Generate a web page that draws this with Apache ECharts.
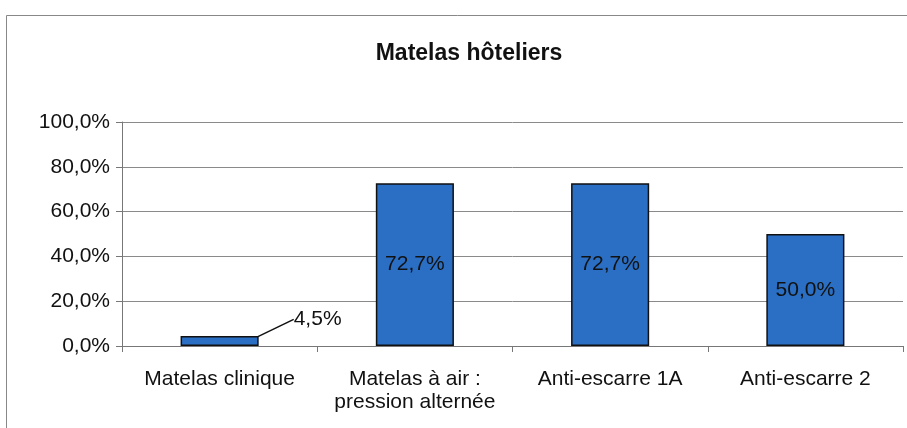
<!DOCTYPE html>
<html>
<head>
<meta charset="utf-8">
<script src="https://cdn.jsdelivr.net/npm/echarts@6/dist/echarts.min.js"></script>
<style>
  html, body { margin: 0; padding: 0; background: #fff; }
  #chart { width: 907px; height: 428px; }
</style>
</head>
<body>
<div id="chart"></div>
<script>
const categories = ["Matelas clinique", "Matelas à air :\npression alternée", "Anti-escarre 1A", "Anti-escarre 2"];
const values = [4.5, 72.7, 72.7, 50.0];
const yTicks = [0, 20, 40, 60, 80, 100];

const fmt = (v) => v.toFixed(1).replace(".", ",") + "%";

const chart = echarts.init(document.getElementById("chart"));

const option = {
  animation: false,
  textStyle: { fontFamily: "Liberation Sans, Arial, sans-serif" },
  title: {
    text: "Matelas hôteliers",
    left: 464,
    textAlign: "center",
    top: 37,
    textStyle: { fontSize: 23, fontWeight: "bold", color: "#111" },
  },
  graphic: [
    {
      type: "rect",
      shape: { x: 6.5, y: 15.5, width: 920, height: 430 },
      style: { fill: "none", stroke: "#888", lineWidth: 1 },
      silent: true,
    },
  ],
  grid: { left: 122, right: 4, top: 122, bottom: 82 },
  xAxis: {
    type: "category",
    data: categories,
    axisLine: { lineStyle: { color: "#777" } },
    axisTick: { show: true, length: 6, lineStyle: { color: "#777" } },
    axisLabel: { color: "#111", fontSize: 21, margin: 22, lineHeight: 23, interval: 0, hideOverlap: false },
  },
  yAxis: {
    type: "value",
    min: yTicks[0],
    max: yTicks[yTicks.length - 1],
    interval: 20,
    axisLine: { show: true, lineStyle: { color: "#777" } },
    axisTick: { show: true, length: 6, lineStyle: { color: "#777" } },
    splitLine: { lineStyle: { color: "#8a8a8a" } },
    axisLabel: { color: "#111", fontSize: 21, margin: 12, formatter: (v) => fmt(v) },
  },
  series: [
    {
      type: "bar",
      barWidth: "40%",
      itemStyle: { color: "#2a6fc4", borderColor: "#111", borderWidth: 1.5 },
      data: values.map((v, i) =>
        i === 0
          ? {
              value: v,
              label: { position: "top", distance: 4 },
              labelLine: { show: true, lineStyle: { color: "#111", width: 1.5 } },
            }
          : v
      ),
      label: {
        show: true,
        position: "inside",
        color: "#111",
        fontSize: 21,
        formatter: (p) => fmt(p.value),
      },
      labelLayout: (params) => (params.dataIndex === 0 ? { dx: 98, dy: -2 } : {}),
    },
  ],
};

chart.setOption(option);
</script>
</body>
</html>
